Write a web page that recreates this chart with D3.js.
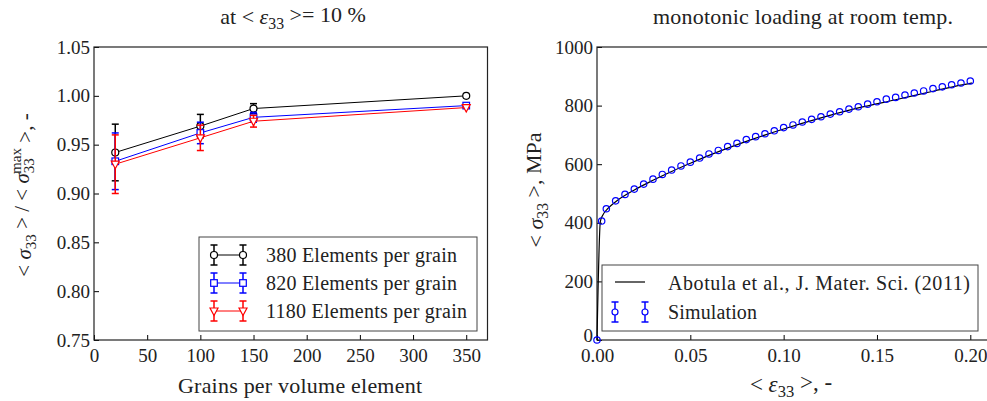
<!DOCTYPE html>
<html>
<head>
<meta charset="UTF-8">
<script src="https://d3js.org/d3.v7.min.js"></script>
<style>
  body { margin: 0; background: #fff; }
  svg { display: block; }
  text { font-family: "Liberation Serif", "Times New Roman", serif; fill: #222; }
</style>
</head>
<body>
<svg width="987" height="401"></svg>
<script>
// left panel: normalised stress vs grains per volume element
const grains = [20, 100, 150, 350];
const mean380 = [0.942, 0.969, 0.987, 1.000];
const err380 = [0.029, 0.012, 0.005, 0];
const mean820 = [0.933, 0.962, 0.978, 0.990];
const err820 = [0.029, 0.011, 0.005, 0];
const mean1180 = [0.930, 0.957, 0.974, 0.988];
const err1180 = [0.030, 0.013, 0.006, 0];
const leftXTicks = [0, 50, 100, 150, 200, 250, 300, 350];
const leftYTicks = [0.75, 0.80, 0.85, 0.90, 0.95, 1.00, 1.05];

// right panel: stress-strain curve
const strainSim = [0, 0.0025, 0.005, 0.01, 0.015, 0.02, 0.025, 0.03, 0.035, 0.04, 0.045, 0.05,
  0.055, 0.06, 0.065, 0.07, 0.075, 0.08, 0.085, 0.09, 0.095, 0.10, 0.105, 0.11, 0.115, 0.12,
  0.125, 0.13, 0.135, 0.14, 0.145, 0.15, 0.155, 0.16, 0.165, 0.17, 0.175, 0.18, 0.185, 0.19,
  0.195, 0.20];
const stressSim = [0, 406, 448, 475, 497, 515, 532, 549, 565, 580, 594, 607,
  621, 635, 647, 660, 671, 684, 694, 704, 714, 725, 734, 744, 753, 762,
  771, 779, 788, 796, 805, 813, 822, 828, 836, 843, 850, 858, 864, 871,
  877, 884];
const strainExp = [0, 0.0018, 0.003, 0.006, 0.01, 0.02, 0.03, 0.04, 0.05, 0.06, 0.08, 0.10,
  0.12, 0.14, 0.16, 0.18, 0.20, 0.201];
const stressExp = [0, 405, 425, 450, 472, 512, 545, 575, 603, 630, 678, 720,
  758, 792, 820, 849, 876, 877];
const rightXTicks = [0, 0.05, 0.10, 0.15, 0.20];
const rightYTicks = [0, 200, 400, 600, 800, 1000];

const svg = d3.select('svg');
const tickFont = '19px';

// helper: write text pieces with sub/superscripts
function rich(sel, parts) {
  parts.forEach(p => {
    const t = sel.append('tspan').text(p.t);
    if (p.sub) t.attr('font-size', '0.72em').attr('dy', p.dy || '0.3em');
    if (p.sup) t.attr('font-size', '0.72em').attr('dy', p.dy || '-0.45em');
    if (p.dx) t.attr('dx', p.dx);
    if (p.it) t.attr('font-style', 'italic');
    if (p.back) t.attr('dy', p.back);
  });
}

// plain text stretched to the width it has in the reference
function label(g, x, y, size, width, str) {
  return g.append('text').attr('x', x).attr('y', y).attr('font-size', size)
    .attr('textLength', width).attr('lengthAdjust', 'spacing').text(str);
}

// ---------- left panel ----------
const lx = d3.scaleLinear().domain([0, 370]).range([94, 487.5]);
const ly = d3.scaleLinear().domain([0.75, 1.05]).range([340, 47]);

const L = svg.append('g');

L.append('g')
  .attr('transform', 'translate(0,340)')
  .call(d3.axisBottom(lx).tickValues(leftXTicks).tickSize(-5).tickPadding(9).tickFormat(d3.format('d')))
  .call(g => g.select('.domain').remove())
  .call(g => g.selectAll('text').attr('font-size', tickFont).attr('fill', '#222'));

L.append('g')
  .attr('transform', 'translate(94,0)')
  .call(d3.axisLeft(ly).tickValues(leftYTicks).tickSize(-5).tickPadding(4).tickFormat(d3.format('.2f')))
  .call(g => g.select('.domain').remove())
  .call(g => g.selectAll('text').attr('font-size', tickFont).attr('fill', '#222'));

L.append('rect')
  .attr('x', lx(0)).attr('y', ly(1.05))
  .attr('width', lx(370) - lx(0)).attr('height', ly(0.75) - ly(1.05))
  .attr('fill', 'none').attr('stroke', '#222').attr('stroke-width', 1.2);

const series = [
  { m: mean380, e: err380, color: 'black', shape: 'circle', name: '380 Elements per grain', w: 191 },
  { m: mean820, e: err820, color: 'blue', shape: 'square', name: '820 Elements per grain', w: 191 },
  { m: mean1180, e: err1180, color: 'red', shape: 'tri', name: '1180 Elements per grain', w: 201 }
];

function marker(g, shape, color, x, y) {
  if (shape === 'circle') {
    g.append('circle').attr('cx', x).attr('cy', y).attr('r', 3.5)
      .attr('fill', 'white').attr('stroke', color).attr('stroke-width', 1.2);
  } else if (shape === 'square') {
    g.append('rect').attr('x', x - 3.3).attr('y', y - 3.3).attr('width', 6.6).attr('height', 6.6)
      .attr('fill', 'white').attr('stroke', color).attr('stroke-width', 1.2);
  } else {
    g.append('path').attr('d', `M${x - 4},${y - 3} L${x + 4},${y - 3} L${x},${y + 4.5} Z`)
      .attr('fill', 'white').attr('stroke', color).attr('stroke-width', 1.2);
  }
}

function errbar(g, color, x, y0, y1) {
  g.append('line').attr('x1', x).attr('x2', x).attr('y1', y0).attr('y2', y1)
    .attr('stroke', color).attr('stroke-width', 1.5);
  [y0, y1].forEach(y => g.append('line').attr('x1', x - 3.5).attr('x2', x + 3.5).attr('y1', y).attr('y2', y)
    .attr('stroke', color).attr('stroke-width', 1.5));
}

series.forEach(s => {
  const g = L.append('g');
  const pts = grains.map((x, i) => [lx(x), ly(s.m[i])]);
  g.append('path').attr('d', d3.line()(pts)).attr('fill', 'none')
    .attr('stroke', s.color).attr('stroke-width', 1);
  grains.forEach((x, i) => {
    if (s.e[i] > 0) errbar(g, s.color, lx(x), ly(s.m[i] + s.e[i]), ly(s.m[i] - s.e[i]));
  });
  grains.forEach((x, i) => marker(g, s.shape, s.color, lx(x), ly(s.m[i])));
});

// left legend
const lg = L.append('g');
lg.append('rect').attr('x', 199).attr('y', 237).attr('width', 278).attr('height', 94)
  .attr('fill', 'white').attr('stroke', '#444').attr('stroke-width', 1);
series.forEach((s, i) => {
  const y = 255 + i * 28;
  lg.append('line').attr('x1', 214).attr('x2', 243).attr('y1', y).attr('y2', y)
    .attr('stroke', s.color).attr('stroke-width', 1);
  [214, 243].forEach(x => { errbar(lg, s.color, x, y - 10, y + 10); marker(lg, s.shape, s.color, x, y); });
  label(lg, 266, y + 7, '20px', s.w, s.name);
});

// left title and labels
rich(L.append('text').attr('x', 293).attr('y', 24).attr('text-anchor', 'middle').attr('font-size', '22px'),
  [{ t: 'at  <  ' }, { t: 'ε', it: true }, { t: '33', sub: true }, { t: '  >=  10 %', back: '-0.3em' }]);

label(L, 178, 393, '22px', 244, 'Grains per volume element');

rich(L.append('text').attr('transform', 'translate(31,195) rotate(-90)').attr('text-anchor', 'middle').attr('font-size', '21px'),
  [{ t: '< ' }, { t: 'σ', it: true }, { t: '33', sub: true }, { t: ' > / < ', back: '-0.3em' },
   { t: 'σ', it: true }, { t: '33', sub: true }, { t: 'max', sup: true, dx: '-1.05em', dy: '-0.85em' },
   { t: ' >, -', back: '0.55em' }]);

// ---------- right panel ----------
const rx = d3.scaleLinear().domain([0, 0.221]).range([597, 1009.5]);
const ry = d3.scaleLinear().domain([0, 1000]).range([340, 47]);

const R = svg.append('g');

R.append('g')
  .attr('transform', 'translate(0,340)')
  .call(d3.axisBottom(rx).tickValues(rightXTicks).tickSize(-5).tickPadding(9).tickFormat(d3.format('.2f')))
  .call(g => g.select('.domain').remove())
  .call(g => g.selectAll('text').attr('font-size', tickFont).attr('fill', '#222'));

R.append('g')
  .attr('transform', 'translate(597,0)')
  .call(d3.axisLeft(ry).tickValues(rightYTicks).tickSize(-5).tickPadding(4).tickFormat(d3.format('d')))
  .call(g => g.select('.domain').remove())
  .call(g => g.selectAll('text').attr('font-size', tickFont).attr('fill', '#222'))
  .call(g => g.selectAll('.tick').filter(d => d === 0).select('text').attr('dy', '0.1em'));

R.append('rect')
  .attr('x', rx(0)).attr('y', ry(1000))
  .attr('width', rx(0.221) - rx(0)).attr('height', ry(0) - ry(1000))
  .attr('fill', 'none').attr('stroke', '#222').attr('stroke-width', 1.2);

R.append('path')
  .attr('d', d3.line().x((d, i) => rx(strainExp[i])).y(d => ry(d)).curve(d3.curveMonotoneX)(stressExp))
  .attr('fill', 'none').attr('stroke', 'black').attr('stroke-width', 1.2);

R.selectAll('circle.sim').data(stressSim).join('circle')
  .attr('class', 'sim')
  .attr('cx', (d, i) => rx(strainSim[i])).attr('cy', d => ry(d))
  .attr('r', 3.2).attr('fill', 'none').attr('stroke', 'blue').attr('stroke-width', 1.2);

// right legend
const rg = R.append('g');
rg.append('rect').attr('x', 602).attr('y', 265).attr('width', 376).attr('height', 66)
  .attr('fill', 'white').attr('stroke', '#444').attr('stroke-width', 1);
rg.append('line').attr('x1', 615).attr('x2', 645).attr('y1', 282).attr('y2', 282)
  .attr('stroke', 'black').attr('stroke-width', 1.2);
label(rg, 668, 290, '20px', 302, 'Abotula et al., J. Mater. Sci. (2011)');
[615, 645].forEach(x => {
  errbar(rg, 'blue', x, 302, 322);
  rg.append('circle').attr('cx', x).attr('cy', 312).attr('r', 3)
    .attr('fill', 'white').attr('stroke', 'blue').attr('stroke-width', 1.2);
});
label(rg, 668, 319, '20px', 89, 'Simulation');

// right title and labels
label(R, 653, 24, '22px', 300, 'monotonic loading at room temp.');

rich(R.append('text').attr('x', 791).attr('y', 392).attr('text-anchor', 'middle').attr('font-size', '23px'),
  [{ t: '<  ' }, { t: 'ε', it: true }, { t: '33', sub: true }, { t: '  >, -', back: '-0.3em' }]);

rich(R.append('text').attr('transform', 'translate(543,190) rotate(-90)').attr('text-anchor', 'middle').attr('font-size', '22px'),
  [{ t: '<  ' }, { t: 'σ', it: true }, { t: '33', sub: true }, { t: '  >, MPa', back: '-0.3em' }]);
</script>
</body>
</html>
